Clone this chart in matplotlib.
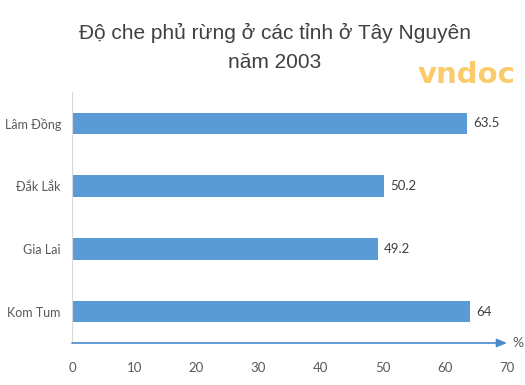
import matplotlib
matplotlib.use("Agg")
import matplotlib.pyplot as plt

provinces = ["Kom Tum", "Gia Lai", "Đắk Lắk", "Lâm Đồng"]
values = [64, 49.2, 50.2, 63.5]
value_labels = ["64", "49.2", "50.2", "63.5"]
xticks = [0, 10, 20, 30, 40, 50, 60, 70]
title_line1 = "Độ che phủ rừng ở các tỉnh ở Tây Nguyên"
title_line2 = "năm 2003"

fig = plt.figure(figsize=(5.25, 3.85), dpi=100)
ax = fig.add_axes([72/525, 1-343/385, (507-72)/525, (343-92)/385])

bar_color = "#5b9bd5"
ypos = range(len(provinces))
ax.barh(list(ypos), values, height=0.34, color=bar_color)
ax.set_xlim(0, 70)
ax.set_ylim(-0.5, len(provinces) - 0.5)

for y, v, lab in zip(ypos, values, value_labels):
    ax.text(v + 1.0, y, lab, va="center", ha="left", fontsize=9.5,
            color="#404040", family="Lato")

ax.set_yticks(list(ypos))
ax.set_yticklabels(provinces, fontsize=9, color="#595959", family="Lato")
ax.set_xticks(xticks)
ax.set_xticklabels([str(t) for t in xticks], fontsize=9.5, color="#595959", family="Lato")
ax.tick_params(axis="both", length=0)
ax.tick_params(axis="x", pad=14)
ax.tick_params(axis="y", pad=8)

for s in ["top", "right", "bottom"]:
    ax.spines[s].set_visible(False)
ax.spines["left"].set_color("#d9d9d9")
ax.spines["left"].set_linewidth(0.8)

# x axis arrow
ax.annotate("", xy=(1.0, 0), xytext=(0, 0), xycoords="axes fraction",
            textcoords="axes fraction",
            arrowprops=dict(arrowstyle="-|>,head_length=0.6,head_width=0.25",
                            color="#4a8bd0", lw=1.2, shrinkA=0, shrinkB=0))
ax.text(1.012, 0.0, "%", transform=ax.transAxes, fontsize=10, color="#595959",
        family="Lato", va="center", ha="left")

fig.text(0.523, 1 - 33/385, title_line1, ha="center", va="center", fontsize=15,
         color="#404040", family="Liberation Sans")
fig.text(0.523, 1 - 62/385, title_line2, ha="center", va="center", fontsize=15,
         color="#404040", family="Liberation Sans")

# watermark
fig.text(0.795, 0.805, "vndoc", fontsize=21, fontweight="bold", color="#fbc55a",
         family="DejaVu Sans", ha="left", va="center", alpha=0.9)

fig.savefig("out.png", dpi=100, facecolor="white")
